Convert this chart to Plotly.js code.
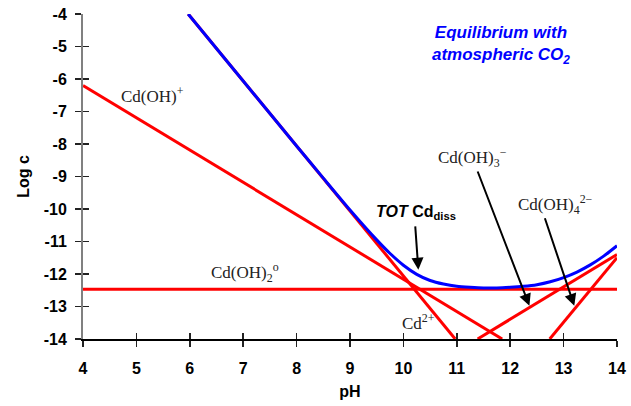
<!DOCTYPE html>
<html>
<head>
<meta charset="utf-8">
<script src="https://cdn.plot.ly/plotly-3.0.1.min.js"></script>
<style>html,body{margin:0;padding:0;background:#fff;}#chart{width:631px;height:406px;}</style>
</head>
<body>
<div id="chart"></div>
<script>
// Species lines (pH, log c)
var cd2_pH = [5.97, 10.97];
var cd2_logc = [-4.0, -14.0];
var cdoh_pH = [4.0, 11.85];
var cdoh_logc = [-6.2, -14.0];
var cdoh2_pH = [4.0, 14.0];
var cdoh2_logc = [-12.47, -12.47];
var cdoh3_pH = [11.39, 14.0];
var cdoh3_logc = [-14.0, -11.4];
var cdoh4_pH = [12.74, 14.0];
var cdoh4_logc = [-14.0, -11.5];
// Total dissolved Cd (blue curve)
var tot_pH = [5.97, 6, 7, 8, 8.5, 9, 9.5, 9.75, 10, 10.25, 10.5, 10.75, 11, 11.25, 11.5, 11.75, 12, 12.25, 12.5, 12.75, 13, 13.25, 13.5, 13.75, 14];
var tot_logc = [-4.0, -4.06, -6.06, -8.06, -9.05, -10.03, -10.95, -11.37, -11.73, -12.01, -12.20, -12.31, -12.38, -12.41, -12.43, -12.43, -12.41, -12.38, -12.33, -12.24, -12.11, -11.94, -11.72, -11.45, -11.13];
// Axis ticks
var xTicks = [4, 5, 6, 7, 8, 9, 10, 11, 12, 13, 14];
var yTicks = [-4, -5, -6, -7, -8, -9, -10, -11, -12, -13, -14];

var red = '#ff0000', blue = '#0000ff';
function line(x, y, c) {
  return {x: x, y: y, mode: 'lines', type: 'scatter', line: {color: c, width: 3}, hoverinfo: 'skip', showlegend: false};
}
var traces = [
  line(cd2_pH, cd2_logc, red),
  line(cdoh_pH, cdoh_logc, red),
  line(cdoh2_pH, cdoh2_logc, red),
  line(cdoh3_pH, cdoh3_logc, red),
  line(cdoh4_pH, cdoh4_logc, red),
  Object.assign(line(tot_pH, tot_logc, blue), {line: {color: blue, width: 3, shape: 'spline', smoothing: 0.6}}),
  {x: [4], y: [-14], xaxis: 'x2', yaxis: 'y2', mode: 'markers', marker: {opacity: 0}, hoverinfo: 'skip', showlegend: false}
];

var serif = {family: 'Liberation Serif, Times New Roman, serif', size: 17, color: '#222'};
var sans = 'Liberation Sans, Arial, sans-serif';
function lab(x, y, t) {
  return {x: x, y: y, xref: 'x', yref: 'y', text: t, showarrow: false, font: serif};
}
function arr(x, y, ax, ay) {
  return {x: x, y: y, ax: ax, ay: ay, xref: 'x', yref: 'y', axref: 'x', ayref: 'y', text: '', showarrow: true,
          arrowhead: 2, arrowsize: 1.2, arrowwidth: 2, arrowcolor: '#000'};
}

var layout = {
  width: 631, height: 406,
  margin: {l: 83, r: 14, t: 14, b: 67},
  paper_bgcolor: '#fff', plot_bgcolor: '#fff',
  showlegend: false,
  font: {family: sans, color: '#000'},
  xaxis: {
    range: [4, 14], tickvals: xTicks, ticktext: xTicks.map(String),
    showgrid: false, zeroline: false, showline: true, linecolor: '#000', linewidth: 1.5,
    ticks: 'outside', ticklen: 6, tickwidth: 1.5, tickcolor: '#222',
    tickfont: {family: sans, size: 16, color: '#000', weight: 'bold'},
    ticklabelstandoff: 8,
    title: {text: '<b>pH</b>', font: {family: sans, size: 16, color: '#000'}, standoff: 10},
    automargin: false, fixedrange: true
  },
  yaxis: {
    range: [-14, -4], tickvals: yTicks, ticktext: yTicks.map(String),
    showgrid: false, zeroline: false, showline: true, linecolor: '#808080', linewidth: 2,
    ticks: 'outside', ticklen: 6, tickwidth: 1.5, tickcolor: '#222',
    tickfont: {family: sans, size: 16, color: '#000', weight: 'bold'},
    ticklabelstandoff: 5,
    title: {text: '<b>Log c</b>', font: {family: sans, size: 16, color: '#000'}, standoff: 10},
    automargin: false, fixedrange: true
  },
  xaxis2: {
    range: [4, 14], tickvals: xTicks, overlaying: 'x', anchor: 'y2', side: 'bottom',
    showgrid: false, zeroline: false, showline: false, showticklabels: false,
    ticks: 'inside', ticklen: 6, tickwidth: 1.5, tickcolor: '#222', fixedrange: true
  },
  yaxis2: {
    range: [-14, -4], tickvals: yTicks, overlaying: 'y', anchor: 'x2', side: 'left',
    showgrid: false, zeroline: false, showline: false, showticklabels: false,
    ticks: 'inside', ticklen: 6, tickwidth: 1.5, tickcolor: '#222', fixedrange: true
  },
  annotations: [
    lab(5.31, -6.49, 'Cd(OH)<sup>+</sup>'),
    lab(7.03, -11.96, 'Cd(OH)<sub>2</sub><sup>o</sup>'),
    lab(10.28, -13.47, 'Cd<sup>2+</sup>'),
    lab(11.29, -8.43, 'Cd(OH)<sub>3</sub><sup>−</sup>'),
    lab(12.85, -9.87, 'Cd(OH)<sub>4</sub><sup>2−</sup>'),
    {x: 10.24, y: -10.12, xref: 'x', yref: 'y', showarrow: false,
     text: '<b><i>TOT</i> Cd<sub>diss</sub></b>', font: {family: sans, size: 16, color: '#000'}},
    {x: 11.82, y: -4.95, xref: 'x', yref: 'y', showarrow: false, align: 'center',
     text: '<b><i>Equilibrium with<br>atmospheric CO<sub>2</sub></i></b>', font: {family: sans, size: 17, color: blue}},
    arr(10.28, -11.87, 10.22, -10.49),
    arr(12.36, -12.98, 11.38, -8.80),
    arr(13.20, -12.98, 12.64, -10.24)
  ]
};

Plotly.newPlot('chart', traces, layout, {staticPlot: true, displayModeBar: false});
</script>
</body>
</html>
